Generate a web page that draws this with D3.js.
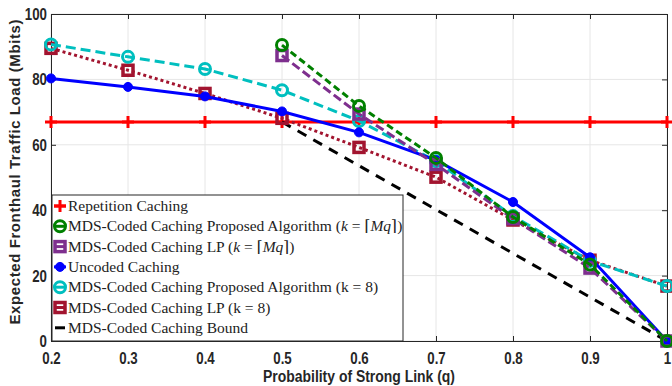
<!DOCTYPE html>
<html>
<head>
<meta charset="utf-8">
<script src="https://cdn.jsdelivr.net/npm/d3@7"></script>
<style>
  body { margin: 0; background: #fff; }
</style>
</head>
<body>
<div class="container"></div>
<script>
const WIDTH = 672, HEIGHT = 386;
const MARGIN = { top: 14, right: 5, bottom: 45, left: 51 };

// data
const qValues = [0.2, 0.3, 0.4, 0.5, 0.6, 0.7, 0.8, 0.9, 1.0];
const qHigh = [0.5, 0.6, 0.7, 0.8, 0.9, 1.0];
const repetition = [67, 67, 67, 67, 67, 67, 67, 67, 67];
const uncoded = [80.3, 77.7, 74.8, 70.2, 63.8, 55.3, 42.5, 25.6, 0];
const proposedK8 = [90.7, 86.9, 83.2, 76.7, 67.3, 55.0, 38.2, 24.5, 16.8];
const lpK8 = [89.5, 82.8, 75.7, 68.1, 59.2, 50.1, 37.0, 24.7, 16.8];
const proposedMq = [90.5, 71.9, 56.0, 37.9, 23.4, 0];
const lpMq = [87.3, 69.4, 54.0, 37.4, 22.3, 0];
const bound = [67, 53.6, 40.2, 26.8, 13.4, 0];
const xTicks = [0.2, 0.3, 0.4, 0.5, 0.6, 0.7, 0.8, 0.9, 1];
const yTicks = [0, 20, 40, 60, 80, 100];

const series = [
  { name: "Repetition Caching", x: qValues, y: repetition, color: "#ff0000", dash: null, marker: "plus" },
  { name: "MDS-Coded Caching Proposed Algorithm ", math: true, x: qHigh, y: proposedMq, color: "#008000", dash: "7,4", marker: "circle" },
  { name: "MDS-Coded Caching LP ", math: true, x: qHigh, y: lpMq, color: "#7e2f8e", dash: "9,4", marker: "square" },
  { name: "Uncoded Caching", x: qValues, y: uncoded, color: "#0000ff", dash: null, marker: "dot" },
  { name: "MDS-Coded Caching Proposed Algorithm (k = 8)", x: qValues, y: proposedK8, color: "#00bfbf", dash: "10,5", marker: "circle" },
  { name: "MDS-Coded Caching LP (k = 8)", x: qValues, y: lpK8, color: "#a2142f", dash: "3,3", marker: "square" },
  { name: "MDS-Coded Caching Bound", x: qHigh, y: bound, color: "#000000", dash: "10,8", marker: null }
];
const drawOrder = [0, 6, 5, 4, 3, 2, 1];

const svg = d3.select(".container")
  .append("svg")
  .attr("width", WIDTH)
  .attr("height", HEIGHT);

const x = d3.scaleLinear().domain([0.2, 1]).range([MARGIN.left, WIDTH - MARGIN.right]);
const y = d3.scaleLinear().domain([0, 100]).range([HEIGHT - MARGIN.bottom, MARGIN.top]);

const sansFont = "'Liberation Sans', Arial, sans-serif";

// squeeze bold sans text so it looks condensed like the original
function condense(sel, factor) {
  sel.each(function () {
    const len = this.getComputedTextLength();
    d3.select(this).attr("textLength", len * factor).attr("lengthAdjust", "spacingAndGlyphs");
  });
}

// grid
svg.append("g").selectAll("line").data(xTicks).enter().append("line")
  .attr("x1", d => x(d)).attr("x2", d => x(d))
  .attr("y1", y(0)).attr("y2", y(100))
  .attr("stroke", "#e6e6e6").attr("stroke-width", 1);
svg.append("g").selectAll("line").data(yTicks).enter().append("line")
  .attr("x1", x(0.2)).attr("x2", x(1))
  .attr("y1", d => y(d)).attr("y2", d => y(d))
  .attr("stroke", "#e6e6e6").attr("stroke-width", 1);

// axes
const xAxis = svg.append("g")
  .attr("transform", `translate(0,${y(0)})`)
  .call(d3.axisBottom(x).tickValues(xTicks).tickSize(-5).tickSizeOuter(0).tickPadding(11)
    .tickFormat(d => d === 1 ? "1" : d3.format(".1f")(d)));
const yAxis = svg.append("g")
  .attr("transform", `translate(${x(0.2)},0)`)
  .call(d3.axisLeft(y).tickValues(yTicks).tickSize(-5).tickSizeOuter(0).tickPadding(4));
svg.append("g")
  .attr("transform", `translate(0,${y(100)})`)
  .call(d3.axisTop(x).tickValues(xTicks).tickSize(-5).tickSizeOuter(0).tickFormat(""));
svg.append("g")
  .attr("transform", `translate(${x(1)},0)`)
  .call(d3.axisRight(y).tickValues(yTicks).tickSize(-5).tickSizeOuter(0).tickFormat(""));

svg.selectAll(".domain, .tick line").attr("stroke", "#262626");
[xAxis, yAxis].forEach(a => {
  const txt = a.selectAll("text")
    .attr("font-family", sansFont)
    .attr("font-weight", "bold")
    .attr("font-size", "17px")
    .attr("fill", "#262626");
  condense(txt, 0.78);
});

// lines and markers
const markerSize = 6;
drawOrder.forEach(i => {
  const s = series[i];
  const pts = s.x.map((q, j) => ({ q: q, v: s.y[j] }));
  const line = d3.line().x(d => x(d.q)).y(d => y(d.v));
  svg.append("path")
    .datum(pts)
    .attr("fill", "none")
    .attr("stroke", s.color)
    .attr("stroke-width", 3)
    .attr("stroke-dasharray", s.dash)
    .attr("d", line);
  if (s.marker) {
    const grp = svg.append("g");
    pts.forEach(d => drawMarker(grp, x(d.q), y(d.v), s));
  }
});

function drawMarker(grp, cx, cy, s) {
  if (s.marker === "plus") {
    grp.append("path")
      .attr("d", `M${cx - markerSize},${cy}H${cx + markerSize}M${cx},${cy - markerSize}V${cy + markerSize}`)
      .attr("stroke", s.color).attr("stroke-width", 3).attr("fill", "none");
  } else if (s.marker === "circle") {
    grp.append("circle")
      .attr("cx", cx).attr("cy", cy).attr("r", 5.5)
      .attr("fill", "none").attr("stroke", s.color).attr("stroke-width", 3);
  } else if (s.marker === "square") {
    grp.append("rect")
      .attr("x", cx - 5).attr("y", cy - 5).attr("width", 10).attr("height", 10)
      .attr("fill", "none").attr("stroke", s.color).attr("stroke-width", 3.5);
  } else if (s.marker === "dot") {
    grp.append("circle")
      .attr("cx", cx).attr("cy", cy).attr("r", 4.5)
      .attr("fill", s.color).attr("stroke", s.color).attr("stroke-width", 1);
  }
}

// legend
const legX = 52, legY = 195, legW = 351, legH = y(0) - 195;
const legend = svg.append("g");
legend.append("rect")
  .attr("x", legX).attr("y", legY).attr("width", legW).attr("height", legH)
  .attr("fill", "#fff").attr("stroke", "#262626").attr("stroke-width", 1);

const rowH = 20.3;
series.forEach((s, i) => {
  const cy = legY + 11 + i * rowH;
  if (s.marker) {
    legend.append("path")
      .attr("d", `M${legX + 2},${cy}H${legX + 14}`)
      .attr("stroke", s.color).attr("stroke-width", 3);
    drawMarker(legend, legX + 8, cy, s);
  } else {
    legend.append("path")
      .attr("d", `M${legX + 3},${cy}H${legX + 13}`)
      .attr("stroke", s.color).attr("stroke-width", 3);
  }
  const t = legend.append("text")
    .attr("x", legX + 16)
    .attr("y", cy + 5)
    .attr("font-family", "'Liberation Serif', 'DejaVu Serif', serif")
    .attr("font-size", "15.5px")
    .attr("fill", "#222");
  t.append("tspan").text(s.name);
  if (s.math) {
    t.append("tspan").text("(");
    t.append("tspan").attr("font-style", "italic").text("k");
    t.append("tspan").text(" = ⌈");
    t.append("tspan").attr("font-style", "italic").text("Mq");
    t.append("tspan").text("⌉)");
  }
});

// axis labels
svg.append("text")
  .attr("x", x(0.6))
  .attr("y", HEIGHT - 4)
  .attr("text-anchor", "middle")
  .attr("font-family", sansFont)
  .attr("font-weight", "bold")
  .attr("font-size", "16px")
  .attr("fill", "#262626")
  .attr("textLength", 192)
  .attr("lengthAdjust", "spacingAndGlyphs")
  .text("Probability of Strong Link (q)");

svg.append("text")
  .attr("transform", `translate(20,172) rotate(-90)`)
  .attr("text-anchor", "middle")
  .attr("font-family", sansFont)
  .attr("font-weight", "bold")
  .attr("font-size", "15px")
  .attr("fill", "#262626")
  .attr("textLength", 305)
  .attr("lengthAdjust", "spacing")
  .text("Expected Fronthaul Traffic Load (Mbits)");
</script>
</body>
</html>
